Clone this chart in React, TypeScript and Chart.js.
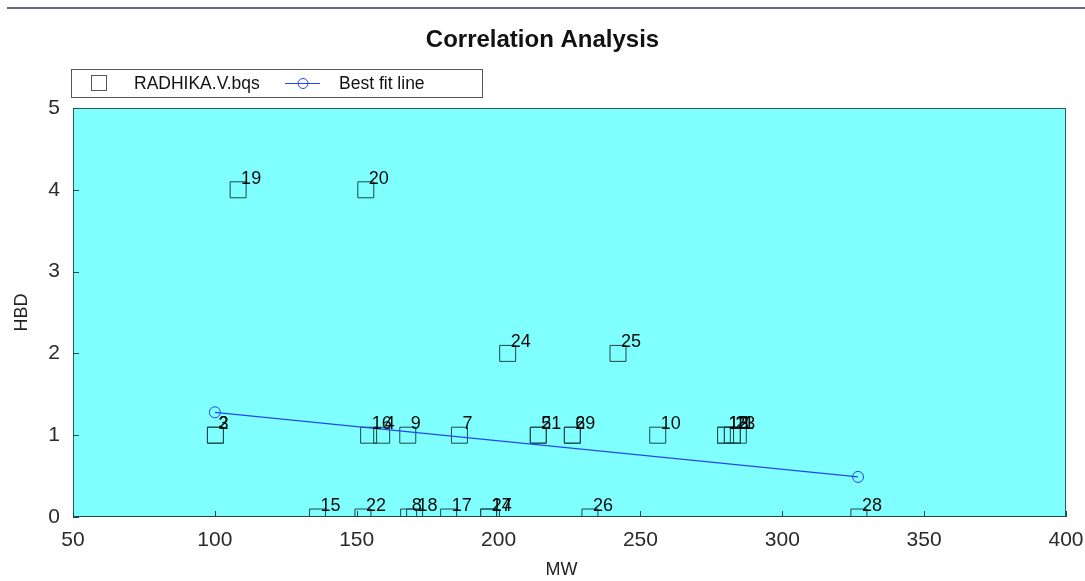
import { useEffect, useRef } from 'react';
import { Chart, registerables } from 'chart.js';

Chart.register(...registerables);

const FONT = "'Liberation Sans', Arial, Helvetica, sans-serif";

const chartTitle = 'Correlation Analysis';
const xTitle = 'MW';
const yTitle = 'HBD';
const seriesName = 'RADHIKA.V.bqs';
const fitName = 'Best fit line';

const pointIds = [
  '1', '2', '3', '4', '5', '6', '7', '8', '9', '10',
  '11', '12', '13', '14', '15', '16', '17', '18', '19', '20',
  '21', '22', '23', '24', '25', '26', '27', '28', '29',
];
const mwValues = [
  284.5, 100.2, 100.2, 158.8, 214.0, 226.0, 186.2, 168.3, 168.0, 256.1,
  282.4, 280.0, 280.0, 196.5, 136.2, 154.2, 182.4, 170.4, 108.2, 153.2,
  214.0, 152.2, 282.4, 203.2, 242.1, 232.2, 196.5, 327.0, 226.0,
];
const hbdValues = [
  1, 1, 1, 1, 1, 1, 1, 0, 1, 1,
  1, 1, 1, 0, 0, 1, 0, 0, 4, 4,
  1, 0, 1, 2, 2, 0, 0, 0, 1,
];

const fitMW = [100.0, 326.7];
const fitHBD = [1.28, 0.49];

const xMin = 50;
const xMax = 400;
const xStep = 50;
const yMin = 0;
const yMax = 5;
const yStep = 1;

const SQUARE_COLOR = '#1a4848';
const FIT_COLOR = '#2446f4';
const PLOT_BG = '#80ffff';

const decorPlugin = {
  id: 'decor',
  beforeDatasetsDraw(chart: any) {
    const { ctx, chartArea: a } = chart;
    ctx.save();
    ctx.fillStyle = PLOT_BG;
    ctx.fillRect(a.left, a.top, a.right - a.left, a.bottom - a.top);
    ctx.restore();
  },
  afterDatasetsDraw(chart: any) {
    const { ctx, chartArea: a } = chart;
    ctx.save();
    // point labels
    const meta = chart.getDatasetMeta(1);
    ctx.font = `18px ${FONT}`;
    ctx.fillStyle = '#0a0a0a';
    ctx.textAlign = 'left';
    ctx.textBaseline = 'alphabetic';
    meta.data.forEach((el: any, i: number) => {
      ctx.fillText(pointIds[i], el.x + 3, el.y - 6);
    });

    // plot border
    ctx.strokeStyle = '#2a5f5f';
    ctx.lineWidth = 1;
    ctx.strokeRect(a.left + 0.5, a.top + 0.5, a.right - a.left - 1, a.bottom - a.top - 1);
    ctx.strokeStyle = '#1c4a4a';
    ctx.beginPath();
    ctx.moveTo(a.left, a.bottom - 0.5);
    ctx.lineTo(a.right, a.bottom - 0.5);
    ctx.stroke();

    // inward tick marks
    const xs = chart.scales.x;
    const ys = chart.scales.y;
    ctx.strokeStyle = '#1c4a4a';
    ctx.beginPath();
    xs.ticks.forEach((t: any) => {
      const px = Math.round(xs.getPixelForValue(t.value)) + 0.5;
      ctx.moveTo(px, a.bottom);
      ctx.lineTo(px, a.bottom - 6);
    });
    ys.ticks.forEach((t: any) => {
      const py = Math.round(ys.getPixelForValue(t.value)) + 0.5;
      ctx.moveTo(a.left, py);
      ctx.lineTo(a.left + 6, py);
    });
    ctx.stroke();
    ctx.restore();
  },
  afterDraw(chart: any) {
    const { ctx, chartArea: a, width } = chart;
    ctx.save();
    // top rule
    ctx.fillStyle = '#67668a';
    ctx.fillRect(7, 7, width - 7, 2);

    // title
    ctx.fillStyle = '#111';
    ctx.font = `bold 24px ${FONT}`;
    ctx.textAlign = 'center';
    ctx.textBaseline = 'middle';
    ctx.fillText(chartTitle, width / 2, 40);

    // axis titles
    ctx.font = `18px ${FONT}`;
    ctx.fillStyle = '#222';
    ctx.fillText(xTitle, (a.left + a.right) / 2 - 8, 570);
    ctx.save();
    ctx.translate(22, (a.top + a.bottom) / 2);
    ctx.rotate(-Math.PI / 2);
    ctx.fillText(yTitle, 0, 0);
    ctx.restore();

    // legend
    const lx = 71, ly = 69, lw = 411, lh = 28;
    ctx.fillStyle = '#ffffff';
    ctx.fillRect(lx, ly, lw, lh);
    ctx.strokeStyle = '#555';
    ctx.lineWidth = 1;
    ctx.strokeRect(lx + 0.5, ly + 0.5, lw, lh);
    const cy = ly + lh / 2;
    ctx.strokeStyle = '#555';
    ctx.strokeRect(91.5, cy - 7.5, 15, 15);
    ctx.fillStyle = '#111';
    ctx.font = `17.5px ${FONT}`;
    ctx.textAlign = 'left';
    ctx.textBaseline = 'middle';
    ctx.fillText(seriesName, 134, cy + 1);
    ctx.strokeStyle = FIT_COLOR;
    ctx.beginPath();
    ctx.moveTo(285, cy + 0.5);
    ctx.lineTo(320, cy + 0.5);
    ctx.stroke();
    ctx.beginPath();
    ctx.arc(303, cy + 0.5, 5, 0, Math.PI * 2);
    ctx.stroke();
    ctx.fillStyle = '#111';
    ctx.fillText(fitName, 339, cy + 1);
    ctx.restore();
  },
};

export default function App() {
  const ref = useRef<HTMLCanvasElement | null>(null);

  useEffect(() => {
    if (!ref.current) return;
    const chart = new Chart(ref.current, {
      type: 'scatter',
      data: {
        datasets: [
          {
            label: fitName,
            data: fitMW.map((x, i) => ({ x, y: fitHBD[i] })),
            showLine: true,
            borderColor: FIT_COLOR,
            borderWidth: 1.2,
            pointStyle: 'circle',
            pointRadius: 5.5,
            pointBorderColor: FIT_COLOR,
            pointBackgroundColor: 'rgba(0,0,0,0)',
            pointBorderWidth: 1,
            clip: false,
          },
          {
            label: seriesName,
            data: mwValues.map((x, i) => ({ x, y: hbdValues[i] })),
            showLine: false,
            pointStyle: 'rect',
            pointRadius: 11.3,
            pointBorderColor: SQUARE_COLOR,
            pointBackgroundColor: 'rgba(0,0,0,0)',
            pointBorderWidth: 1,
          },
        ],
      },
      options: {
        responsive: false,
        maintainAspectRatio: false,
        animation: false,
        events: [],
        layout: { padding: { top: 108, right: 19, left: 0, bottom: 0 } },
        plugins: {
          legend: { display: false },
          title: { display: false },
          tooltip: { enabled: false },
        },
        scales: {
          x: {
            type: 'linear',
            min: xMin,
            max: xMax,
            ticks: {
              stepSize: xStep,
              font: { size: 21, family: FONT },
              color: '#2a2a2a',
              padding: 11,
              maxRotation: 0,
            },
            grid: { display: false, drawTicks: false },
            border: { display: false },
            afterFit: (s: any) => {
              s.height = 64;
              s.paddingLeft = 0;
              s.paddingRight = 0;
            },
          },
          y: {
            type: 'linear',
            min: yMin,
            max: yMax,
            ticks: {
              stepSize: yStep,
              font: { size: 21, family: FONT },
              color: '#2a2a2a',
              padding: 13,
            },
            grid: { display: false, drawTicks: false },
            border: { display: false },
            afterFit: (s: any) => {
              s.width = 73;
              s.paddingTop = 0;
              s.paddingBottom = 0;
            },
          },
        },
      },
      plugins: [decorPlugin],
    });
    return () => chart.destroy();
  }, []);

  return (
    <div style={{ position: 'fixed', left: 0, top: 0, width: 1085, height: 581, background: '#fff' }}>
      <canvas ref={ref} width={1085} height={581} style={{ display: 'block' }} />
    </div>
  );
}
